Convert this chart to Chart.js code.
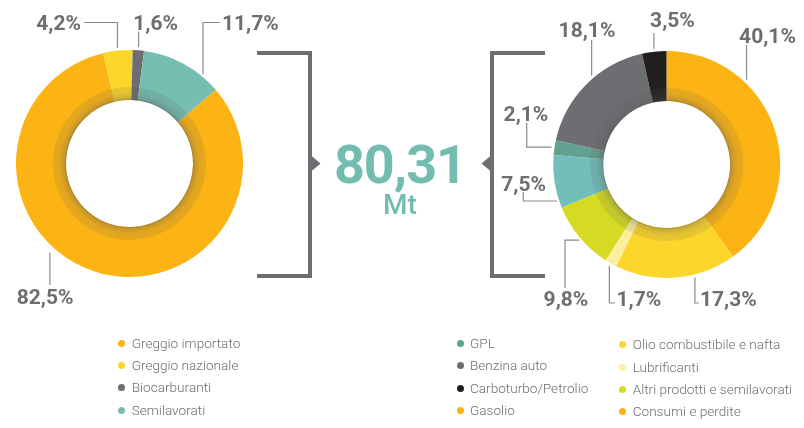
<!DOCTYPE html>
<html><head><meta charset="utf-8">
<script src="https://cdn.jsdelivr.net/npm/chart.js@4"></script>
<style>
body{margin:0;background:#fff;}
#wrap{position:relative;width:804px;height:428px;overflow:hidden;font-family:Roboto,"Noto Sans",sans-serif;}
canvas{position:absolute;left:0;top:0;}
svg{position:absolute;left:0;top:0;}
.total{position:absolute;left:300px;width:200px;text-align:center;top:138px;font-size:54px;line-height:54px;font-weight:700;color:#72bdb0;letter-spacing:-1px;}
.unit{position:absolute;left:300px;width:200px;text-align:center;top:191.3px;font-size:28px;line-height:28px;font-weight:500;color:#72bdb0;}
.legend{position:absolute;font-size:13.6px;font-weight:300;color:#6d6e71;}
.legend div{position:relative;height:22.4px;line-height:22.4px;white-space:nowrap;padding-left:10px;}
.legend span{position:absolute;left:-3.5px;top:8px;width:7px;height:7px;border-radius:50%;}
</style></head><body>
<div id="wrap">
<canvas id="left" width="804" height="428"></canvas>
<canvas id="right" width="804" height="428"></canvas>
<svg width="804" height="428">
  <path d="M257,53 H310 V276 H257" fill="none" stroke="#6d6e71" stroke-width="4"/>
  <polygon points="311,155.5 320.5,163.5 311,171.5" fill="#6d6e71"/>
  <path d="M545,53 H492 V276 H545" fill="none" stroke="#6d6e71" stroke-width="4"/>
  <polygon points="491,155.5 481.5,163.5 491,171.5" fill="#6d6e71"/>
</svg>
<div class="total" id="total"></div>
<div class="unit" id="unit"></div>
<div class="legend" id="legL" style="left:121.7px;top:331.5px;"></div>
<div class="legend" id="legR1" style="left:460px;top:331.8px;"></div>
<div class="legend" id="legR2" style="left:622.7px;top:333.2px;"></div>
</div>
<script>
// ---- DATA ----
const leftCategories = ['Greggio importato','Greggio nazionale','Biocarburanti','Semilavorati'];
const leftValues = [82.5, 4.2, 1.6, 11.7];
const leftValueLabels = ['82,5%','4,2%','1,6%','11,7%'];

const rightCategories = ['GPL','Benzina auto','Carboturbo/Petrolio','Gasolio','Olio combustibile e nafta','Lubrificanti','Altri prodotti e semilavorati','Consumi e perdite'];
const rightValues = [2.1, 18.1, 3.5, 40.1, 17.3, 1.7, 9.8, 7.5];
const rightValueLabels = ['2,1%','18,1%','3,5%','40,1%','17,3%','1,7%','9,8%','7,5%'];

const totalValue = '80,31';
const totalUnit = 'Mt';

// ---- STYLES ----
const ORANGE='#fcb415', YELLOW='#fdd62b', GRAY='#6d6e71', TEAL='#76bdb2', BLACK='#231f20',
      LIGHTY='#fbef9e', LIME='#d5db22', GPLC='#62a08f', TEAL2='#72bebb';
const leftColors = [ORANGE, YELLOW, GRAY, TEAL];
const rightColors = [GPLC, GRAY, BLACK, ORANGE, YELLOW, LIGHTY, LIME, TEAL2];
const leftLegendColors = leftColors;
const rightLegendColors = [GPLC, GRAY, BLACK, ORANGE, YELLOW, LIGHTY, LIME, ORANGE];

// label layout (relative to donut centre)
const leftLayout = [
  {frac:0.58, gap:6, path:'v',  ex:0, ey:121.5, tx:-112.8, ty:133, align:'left'},
  {frac:0.5,  gap:3, path:'vh', ex:-45.5, ey:-141, tx:-48.5, ty:-141, align:'right'},
  {frac:0.5,  gap:3, path:'v',  ex:0, ey:-132, tx:3.8, ty:-141, align:'left'},
  {frac:0.763,gap:2, path:'vh', ex:90.5, ey:-141, tx:92.5, ty:-141, align:'left'}
];
const rightLayout = [
  {frac:0.5,  gap:3, path:'hv', ex:-140, ey:-41.5, tx:-140.7, ty:-51, align:'center'},
  {frac:0.577,gap:3, path:'v',  ex:0, ey:-124.5, tx:-79.7, ty:-134.5, align:'center'},
  {frac:0.5,  gap:3, path:'v',  ex:0, ey:-131.5, tx:5.8, ty:-144.5, align:'center'},
  {frac:0.30, gap:3, path:'v',  ex:0, ey:-119.5, tx:100.8, ty:-128.5, align:'center'},
  {frac:0.35, gap:3, path:'vh', ex:32.3, ey:138.5, tx:33.3, ty:134.5, align:'left'},
  {frac:0.5,  gap:3, path:'vh', ex:-51.7, ey:138.5, tx:-50.2, ty:134.5, align:'left'},
  {frac:0.47, gap:2, path:'hv', ex:-101.7, ey:123.5, tx:-100.7, ty:134.5, align:'center'},
  {frac:0.14, gap:2, path:'hv', ex:-143.4, ey:27.5, tx:-143, ty:18.8, align:'center'}
];

function leaderPlugin(texts, layout){
  return {
    id:'leaders',
    afterDatasetsDraw(chart){
      const ctx = chart.ctx;
      const arcs = chart.getDatasetMeta(0).data;
      const cx = arcs[0].x, cy = arcs[0].y, R = arcs[0].outerRadius, r = arcs[0].innerRadius;
      // bevel band
      const rb = r + 13.5;
      ctx.save();
      const g = ctx.createRadialGradient(cx,cy,r,cx,cy,rb);
      g.addColorStop(0,'rgba(85,85,85,0.55)');
      g.addColorStop(0.12,'rgba(85,85,85,0.32)');
      g.addColorStop(0.5,'rgba(85,85,85,0.16)');
      g.addColorStop(0.92,'rgba(85,85,85,0.13)');
      g.addColorStop(1,'rgba(85,85,85,0.03)');
      ctx.beginPath();
      ctx.arc(cx,cy,rb,0,Math.PI*2);
      ctx.arc(cx,cy,r,0,Math.PI*2,true);
      ctx.fillStyle = g;
      ctx.fill();
      // leaders + labels
      ctx.strokeStyle = '#8a8b8d';
      ctx.lineWidth = 1.2;
      ctx.fillStyle = '#6d6e71';
      const fs = 21;
      ctx.font = '700 '+fs+'px Roboto';
      ctx.textBaseline = 'alphabetic';
      layout.forEach((c,i)=>{
        const a = arcs[i];
        const ang = a.startAngle + (a.endAngle - a.startAngle)*c.frac;
        const ax = cx + Math.cos(ang)*(R+c.gap), ay = cy + Math.sin(ang)*(R+c.gap);
        let pts;
        if (c.path==='v') pts = [[ax,ay],[ax,cy+c.ey]];
        else if (c.path==='vh') pts = [[ax,ay],[ax,cy+c.ey],[cx+c.ex,cy+c.ey]];
        else pts = [[ax,ay],[cx+c.ex,ay],[cx+c.ex,cy+c.ey]];
        ctx.beginPath();
        ctx.moveTo(pts[0][0],pts[0][1]);
        for (let k=1;k<pts.length;k++) ctx.lineTo(pts[k][0],pts[k][1]);
        ctx.stroke();
        ctx.textAlign = c.align;
        ctx.fillText(texts[i], cx+c.tx, cy+c.ty + 0.711*fs/2);
      });
      ctx.restore();
    }
  };
}

function makeDonut(id, values, colors, labels, texts, layout, rotation, padding){
  return new Chart(document.getElementById(id), {
    type:'doughnut',
    data:{ labels: labels, datasets:[{ data: values, backgroundColor: colors, borderWidth:0 }] },
    options:{
      responsive:false, animation:false, events:[],
      rotation: rotation,
      radius: 113.5,
      cutout: (63.5/113.5*100)+'%',
      layout:{ padding: padding },
      plugins:{ legend:{display:false}, tooltip:{enabled:false} }
    },
    plugins:[leaderPlugin(texts, layout)]
  });
}

// left donut: centre (129.5,163.5)
makeDonut('left', leftValues, leftColors, leftCategories, leftValueLabels, leftLayout, 49.5,
  {left:0, top:0, right:804-259, bottom:428-327});
// right donut: Gasolio starts at 12 o'clock; centre (666.7,164.5)
const rightTotal = rightValues.reduce((s,v)=>s+v,0);
const rightRotation = -(rightValues[0]+rightValues[1]+rightValues[2])/rightTotal*360;
makeDonut('right', rightValues, rightColors, rightCategories, rightValueLabels, rightLayout, rightRotation,
  {left:666.7-137.3, top:0, right:0, bottom:428-329});

document.getElementById('total').textContent = totalValue;
document.getElementById('unit').textContent = totalUnit;

function legend(elId, cats, cols){
  const el = document.getElementById(elId);
  cats.forEach((c,i)=>{
    const d = document.createElement('div');
    const s = document.createElement('span');
    s.style.background = cols[i];
    d.appendChild(s);
    d.appendChild(document.createTextNode(c));
    el.appendChild(d);
  });
}
legend('legL', leftCategories, leftLegendColors);
legend('legR1', rightCategories.slice(0,4), rightLegendColors.slice(0,4));
legend('legR2', rightCategories.slice(4), rightLegendColors.slice(4));
</script>
</body></html>
